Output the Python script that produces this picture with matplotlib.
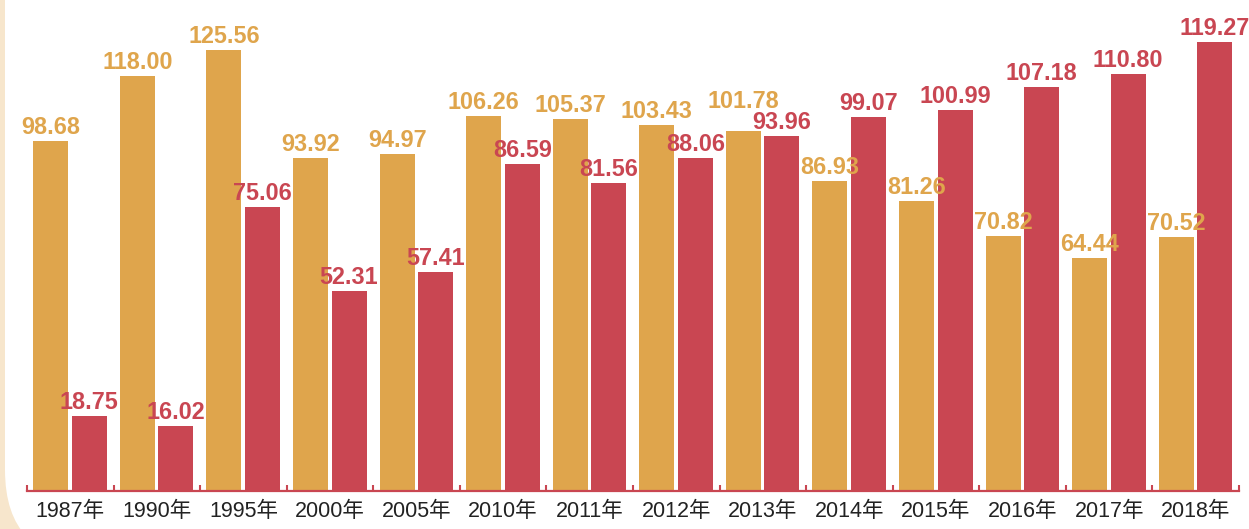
import matplotlib
matplotlib.use("Agg")
import matplotlib.pyplot as plt
from matplotlib.patches import FancyBboxPatch
import numpy as np

years = ["1987年", "1990年", "1995年", "2000年", "2005年", "2010年", "2011年",
         "2012年", "2013年", "2014年", "2015年", "2016年", "2017年", "2018年"]
series_a = [98.68, 118.00, 125.56, 93.92, 94.97, 106.26, 105.37, 103.43, 101.78,
            86.93, 81.26, 70.82, 64.44, 70.52]
series_b = [18.75, 16.02, 75.06, 52.31, 57.41, 86.59, 81.56, 88.06, 93.96,
            99.07, 100.99, 107.18, 110.80, 119.27]

ORANGE = "#DFA54C"
RED = "#C94652"
CREAM = "#F7E6CC"

W, H = 1249, 529
fig = plt.figure(figsize=(W / 100, H / 100), dpi=100)
fig.patch.set_facecolor(CREAM)

# background axes in pixel units for the white rounded panel
bg = fig.add_axes([0, 0, 1, 1], zorder=-5)
bg.set_xlim(0, W)
bg.set_ylim(H, 0)
bg.axis("off")
bg.add_patch(FancyBboxPatch((5, -200), W + 300, 760,
                            boxstyle="round,pad=0,rounding_size=90",
                            facecolor="white", edgecolor="none"))

left, right = 27, 1239
bottom_px, top_px = 491, 20
ax = fig.add_axes([left / W, (H - bottom_px) / H, (right - left) / W,
                   (bottom_px - top_px) / H])
ax.patch.set_alpha(0)
ax2 = ax.twinx()

n = len(years)
x = np.arange(n)
ax.set_xlim(-0.5, n - 0.5)

a_min = -14 / 3.40
a_max = a_min + 471 / 3.40
b_min = -5 / 3.72
b_max = b_min + 471 / 3.72
ax.set_ylim(a_min, a_max)
ax2.set_ylim(b_min, b_max)

bw = 0.405
xa = x - 0.225
xb = x + 0.22
ax.bar(xa, np.array(series_a) - a_min, bottom=a_min, width=bw, color=ORANGE, zorder=2)
ax2.bar(xb, np.array(series_b) - b_min, bottom=b_min, width=bw, color=RED, zorder=2)

lab_font = dict(family=["Liberation Sans"], fontsize=16.8, fontweight="bold")
labels = []
for xi, v in zip(xa, series_a):
    t = ax2.annotate(f"{v:.2f}", (xi, v), xycoords=ax.transData, xytext=(0, 7),
                     textcoords="offset pixels", ha="center", va="baseline",
                     color=ORANGE, zorder=6, **lab_font)
    labels.append(t)
for xi, v in zip(xb, series_b):
    t = ax2.annotate(f"{v:.2f}", (xi, v), xytext=(0, 7),
                     textcoords="offset pixels", ha="center", va="baseline",
                     color=RED, zorder=6, **lab_font)
    labels.append(t)

for a in (ax, ax2):
    for s in a.spines.values():
        s.set_visible(False)
    a.set_yticks([])
ax.spines["bottom"].set_visible(True)
ax.spines["bottom"].set_color(RED)
ax.spines["bottom"].set_linewidth(1.6)

ax.set_xticks(x)
ax.set_xticklabels(years, family=["Liberation Sans", "Noto Sans CJK SC"],
                   fontsize=15.5, color="#222222")
ax.tick_params(axis="x", which="major", length=0, pad=7)
ax.set_xticks(np.arange(n + 1) - 0.5, minor=True)
ax.tick_params(axis="x", which="minor", direction="in", length=4.5, width=1.5,
               color=RED)

# nudge value labels apart where they collide
fig.canvas.draw()
r = fig.canvas.get_renderer()
for _ in range(3):
    moved = False
    for i in range(len(labels)):
        for j in range(len(labels)):
            if i == j:
                continue
            bi = labels[i].get_window_extent(r)
            bj = labels[j].get_window_extent(r)
            if bi.overlaps(bj) and bi.y0 >= bj.y0:
                shift = bj.y1 - bi.y0 - 2
                ox, oy = labels[i].xyann
                labels[i].xyann = (ox, oy + shift)
                moved = True
    if not moved:
        break
    fig.canvas.draw()

fig.savefig("out.png", dpi=100, facecolor=fig.get_facecolor())
